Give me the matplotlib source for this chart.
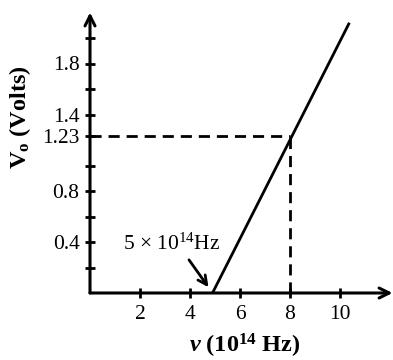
import numpy as np
import matplotlib.pyplot as plt

plt.rcParams['font.family'] = 'Liberation Serif'
plt.rcParams['mathtext.fontset'] = 'custom'
plt.rcParams['mathtext.rm'] = 'Liberation Serif'
plt.rcParams['mathtext.bf'] = 'Liberation Serif:bold'
plt.rcParams['mathtext.it'] = 'Liberation Serif:italic:bold'

# Data
freq = [4.9, 10.35]          # 10^14 Hz
volts = [0.0, 2.11]          # stopping potential
threshold = 4.9
mark_freq = 8
mark_volt = 1.23
xticks = [2, 4, 6, 8, 10]
yticks_lab = [0.4, 0.8, 1.23, 1.4, 1.8]
yticks_minor = [0.2, 0.6, 1.0, 1.6, 2.0]
xmax, ymax = 12.1, 2.2

fig = plt.figure(figsize=(3.93, 3.60), dpi=100)
ax = fig.add_axes([90/393, 67/360, 302.5/393, 280.5/360])
ax.set_xlim(0, xmax)
ax.set_ylim(0, ymax)
for s in ax.spines.values():
    s.set_visible(False)

# axes with arrow heads
ax.annotate('', xy=(xmax, 0), xytext=(0, 0),
            arrowprops=dict(arrowstyle='->', lw=2.2, color='black',
                            shrinkA=0, shrinkB=0, mutation_scale=18))
ax.annotate('', xy=(0, ymax), xytext=(0, 0),
            arrowprops=dict(arrowstyle='->', lw=2.2, color='black',
                            shrinkA=0, shrinkB=0, mutation_scale=18))

ax.set_xticks(xticks)
ax.set_xticklabels([str(v) for v in xticks])
ax.set_yticks(yticks_lab)
ax.set_yticklabels(['0.4', '0.8', '1.23', '1.4', '1.8'])
ax.set_yticks(yticks_minor, minor=True)
ax.tick_params(which='both', direction='inout', length=7, width=2,
               labelsize=15.5, pad=4)
ax.tick_params(axis='x', pad=5)

# main line and dashed guides
ax.plot(freq, volts, color='black', lw=2)
ax.plot([0, mark_freq], [mark_volt, mark_volt], color='black', lw=2,
        dashes=(4, 2.5))
ax.plot([mark_freq, mark_freq], [0, mark_volt], color='black', lw=2,
        dashes=(4, 2.5))

# threshold annotation
ax.text(3.28, 0.385, r'5 $\times$ 10$^{14}$Hz', ha='center', va='center',
        fontsize=15.5)
ax.annotate('', xy=(4.74, 0.045), xytext=(3.96, 0.26),
            arrowprops=dict(arrowstyle='->', lw=2, color='black',
                            shrinkA=0, shrinkB=0, mutation_scale=16))

ax.set_xlabel(r'$\mathit{\nu}$ (10$^{\mathbf{14}}$ Hz)', fontsize=17.5,
              fontweight='bold')
ax.set_ylabel(r'V$_{\mathbf{o}}$ (Volts)', fontsize=17.5, fontweight='bold')
ax.xaxis.set_label_coords(0.512, -0.14)
ax.yaxis.set_label_coords(-0.19, 0.627)

fig.savefig('out.png', dpi=100)
